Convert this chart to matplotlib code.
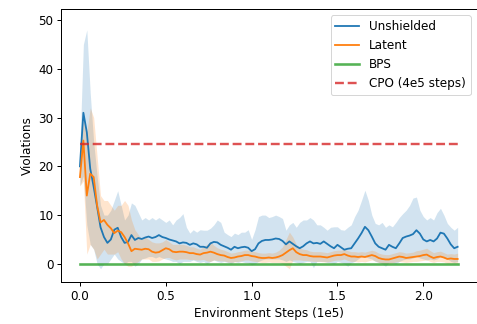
import numpy as np
import matplotlib
matplotlib.use("Agg")
import matplotlib.pyplot as plt

# One value every 0.02 (x 1e5 steps)
step_size = 0.02

unshielded = [
    20, 31, 27, 19.5, 15.8, 11.7, 7.5, 5.5, 4.3, 5.0,
    7.0, 7.4, 5.5, 4.3, 4.5, 5.9, 4.9, 5.3, 5.1, 5.4,
    5.6, 5.3, 5.5, 5.9, 5.5, 5.3, 5.0, 4.8, 4.6, 4.2,
    4.4, 4.3, 3.9, 4.2, 4.0, 3.5, 3.5, 3.3, 4.2, 4.5,
    4.4, 3.9, 3.6, 3.3, 2.9, 3.5, 3.2, 3.4, 3.5, 3.3,
    2.6, 3.0, 4.2, 4.7, 4.9, 4.9, 5.0, 5.2, 5.1, 4.7,
    4.0, 4.6, 4.1, 3.6, 3.2, 3.6, 4.2, 4.6, 4.2, 4.3,
    4.1, 4.6, 4.1, 3.6, 3.2, 3.9, 3.4, 2.9, 3.1, 3.2,
    4.2, 5.2, 6.3, 7.6, 6.9, 5.6, 4.2, 3.5, 3.2, 2.9,
    3.9, 3.5, 3.2, 4.2, 5.3, 5.6, 5.8, 6.1, 6.9, 6.2,
    5.0, 4.6, 4.9, 4.6, 5.2, 6.4, 6.2, 5.2, 4.0, 3.2,
    3.5,
]
unshielded_hi = [
    24, 45, 48, 35, 25, 18, 12, 10, 10, 11,
    13, 15, 12, 9, 10, 12.5, 12, 10.5, 9, 9.5,
    9, 9.5, 9, 9.5, 9, 8.5, 9, 8, 9, 9.5,
    10.3, 7.5, 6.3, 7, 6.5, 7, 6.9, 6.9, 7.3, 8,
    9, 8.5, 6.5, 6, 5.6, 6.3, 6, 6.5, 6.5, 7,
    5, 7, 9.7, 10, 10, 9.5, 9.7, 10, 9.7, 9.3,
    6.9, 8, 8.5, 7.5, 8.5, 9, 9, 9.5, 9, 8,
    8, 7.5, 6.9, 7.5, 7.6, 7.6, 7, 6.9, 7.5, 8,
    9.7, 11, 13, 15.1, 13, 10, 8.3, 8, 8.5, 7.5,
    8, 7.6, 8.5, 9.5, 10.3, 11, 12, 13.5, 13.7, 11,
    9.7, 9, 9.5, 9, 10.5, 11.4, 10, 8.3, 7.5, 6.9,
    7.5,
]
unshielded_lo = [
    16, 18, 8, 4, 3, 0, -1, 0, 0, 1,
    2, 1, 0.5, 0, 0.5, 0.5, -0.5, 0, 1, 1.2,
    1.5, 1.5, 1.2, 1.5, 1.2, 1, 0.8, 0.5, 0.5, 0,
    0.5, 0.5, 0.5, 0.8, 0.5, 0.3, 0.5, 0, 0.5, 0.8,
    0.5, 0.3, 0.5, 0.3, 0, 0.5, 0.3, 0.5, 0.3, 0.2,
    -0.2, 0, 0.5, 0.8, 1, 1, 1, 1, 1, 0.8,
    0.5, 0.8, 0.5, 0.3, 0, 0.3, 0.5, 0.5, -0.8, 0.5,
    0.5, 0.5, 0.3, 0.2, 0, 0.5, 0.3, 0, -0.5, 0.2,
    0.5, 1, 1.5, 1.5, 1.2, 1, 0.5, 0.3, 0, -0.5,
    0.3, 0.2, 0, 0.5, 0.8, 1, 1, 1.2, 1.5, 1.2,
    1, 0.8, 1, 0.8, 1, 1.5, 1.2, 1, 0.5, 0.3,
    0.5,
]

latent = [
    17.8, 25.3, 14, 18.5, 17.8, 12, 8.5, 9, 8, 7.3,
    6.3, 6.8, 6.5, 5.5, 4.2, 2.6, 3.1, 3.0, 2.9, 3.1,
    3.0, 2.5, 2.3, 2.4, 2.8, 3.2, 3.0, 2.5, 2.4, 2.5,
    2.5, 2.4, 2.2, 2.2, 2.0, 1.9, 2.2, 2.3, 2.5, 2.3,
    2.0, 1.8, 1.7, 1.4, 1.2, 1.3, 1.5, 1.6, 1.8, 1.8,
    1.6, 1.5, 1.3, 1.2, 1.2, 1.3, 1.2, 1.3, 1.5, 1.8,
    2.3, 2.8, 3.2, 2.4, 2.0, 1.8, 1.8, 1.6, 1.5, 1.5,
    1.5, 1.4, 1.3, 1.5, 1.7, 1.8, 1.8, 2.0, 1.7, 1.5,
    1.5, 1.4, 1.5, 1.4, 1.6, 1.8, 1.6, 1.2, 1.0, 0.9,
    0.9, 1.1, 1.3, 1.5, 1.4, 1.2, 1.3, 1.4, 1.5, 1.6,
    1.8, 1.9, 1.5, 1.2, 1.4, 1.5, 1.3, 1.0, 1.1, 1.0,
    1.0,
]
latent_hi = [
    19, 30, 27, 32, 30, 22, 14, 13, 13, 12,
    11, 12, 12, 13, 12, 9, 7, 6, 5, 5.5,
    5, 4.5, 4.3, 4.3, 4.5, 5, 4.5, 4, 4, 4,
    4, 3.8, 3.5, 3.5, 3.2, 3, 3.5, 4, 4.5, 3.8,
    3.3, 3, 2.8, 2.5, 2.2, 2.3, 2.5, 2.6, 2.8, 2.8,
    2.6, 2.5, 2.3, 2.2, 2.2, 2.3, 2.2, 2.4, 2.8, 3.5,
    5, 6.5, 5.5, 4, 3.2, 3, 2.9, 2.6, 2.5, 2.5,
    2.5, 2.4, 2.3, 2.5, 2.7, 2.8, 2.8, 3, 2.7, 2.5,
    2.5, 2.4, 2.5, 2.4, 2.6, 2.8, 2.6, 2.2, 2, 1.9,
    1.9, 2.1, 2.3, 2.5, 2.4, 2.2, 2.3, 2.4, 2.7, 2.8,
    3, 3.2, 2.7, 2.3, 2.5, 2.6, 2.3, 2, 2.1, 2,
    2.2,
]
latent_lo = [
    16, 17, 2, 4, 3, 1, 2, 3, 2, 2,
    2, 2.5, 1, 0, -0.5, -0.5, 0, 0.5, 1, 1,
    1, 0.5, 0.5, 0.6, 1, 1.3, 1.3, 1, 0.8, 1,
    1, 1, 0.9, 0.9, 0.8, 0.8, 0.9, 0.6, 0.5, 0.8,
    0.7, 0.6, 0.6, 0.4, 0.3, 0.4, 0.5, 0.6, 0.8, 0.8,
    0.6, 0.5, 0.4, 0.3, 0.3, 0.4, 0.3, 0.3, 0.3, 0,
    -0.5, -1, 0.8, 0.8, 0.8, 0.7, 0.7, 0.6, 0.5, 0.5,
    0.5, 0.4, 0.4, 0.5, 0.7, 0.8, 0.8, 1, 0.7, 0.5,
    0.5, 0.4, 0.5, 0.4, 0.6, 0.8, 0.6, 0.3, 0.1, 0,
    0, 0.2, 0.4, 0.5, 0.4, 0.3, 0.4, 0.5, 0.5, 0.6,
    0.7, 0.8, 0.5, 0.3, 0.5, 0.5, 0.4, 0.1, 0.2, 0.1,
    0.1,
]

bps = [0.0] * len(unshielded)
cpo_level = 24.5

steps = np.arange(len(unshielded)) * step_size

# reference looks like a default notebook figure scaled up ~1.2x
plt.rcParams.update({
    "font.size": 12,
    "axes.linewidth": 1.0,
    "xtick.major.size": 4.2,
    "ytick.major.size": 4.2,
    "xtick.major.width": 1.0,
    "ytick.major.width": 1.0,
})

fig = plt.figure(figsize=(477 / 72, 324 / 72), dpi=72)
ax = fig.add_axes([0.128, 0.13, 0.871, 0.841])

ax.plot(steps, unshielded, color="tab:blue", lw=1.8, label="Unshielded")
ax.fill_between(steps, unshielded_lo, unshielded_hi, color="tab:blue", alpha=0.2, lw=0)
ax.plot(steps, latent, color="tab:orange", lw=1.8, label="Latent")
ax.fill_between(steps, latent_lo, latent_hi, color="tab:orange", alpha=0.2, lw=0)
ax.plot(steps, bps, color="tab:green", lw=2.6, alpha=0.8, label="BPS")
ax.plot([steps[0], steps[-1]], [cpo_level, cpo_level], color="tab:red", lw=2.4,
        alpha=0.8, linestyle="--", label="CPO (4e5 steps)")

ax.set_xlim(-0.11, 2.31)
ax.set_ylim(-3.7, 52.2)
ax.set_yticks([0, 10, 20, 30, 40, 50])
ax.set_xticks([0.0, 0.5, 1.0, 1.5, 2.0])
ax.set_xlabel("Environment Steps (1e5)")
ax.set_ylabel("Violations")
ax.legend(loc="upper right")

fig.savefig("out.png", dpi=72)
